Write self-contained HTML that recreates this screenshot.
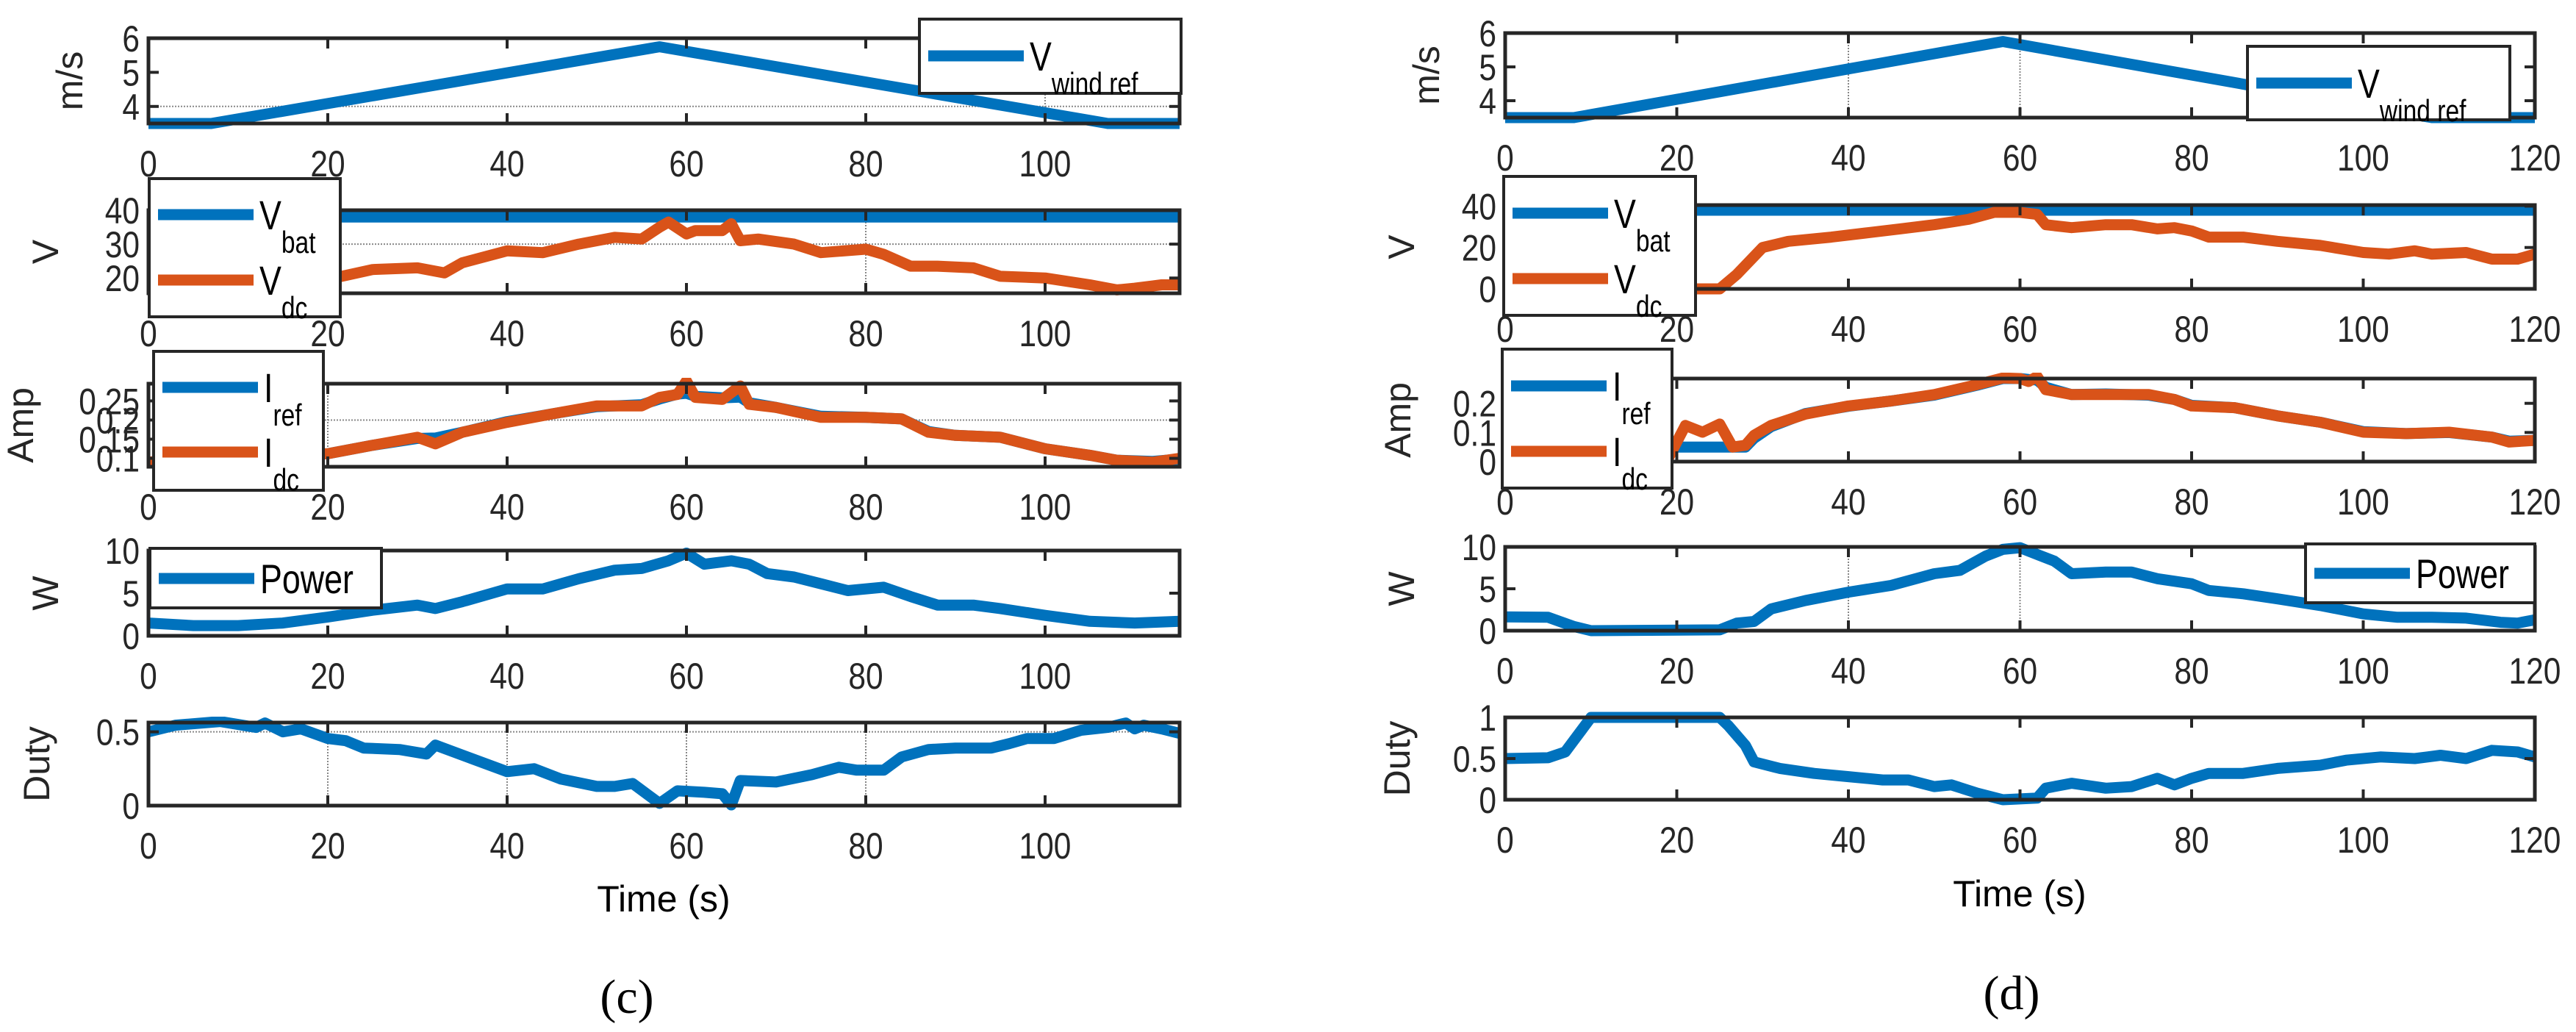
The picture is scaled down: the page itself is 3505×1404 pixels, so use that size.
<!DOCTYPE html>
<html><head><meta charset="utf-8"><style>
html,body{margin:0;padding:0;background:#fff;}
svg{display:block;font-family:"Liberation Sans",sans-serif;}
</style></head><body>
<svg id="fig" width="3505" height="1404" viewBox="0 0 3505 1404" xmlns="http://www.w3.org/2000/svg"></svg>
<script>
// ---------- data: panel (c) ----------
const cWindT=[0,7,57,107,115];
const cWindV=[3.5,3.5,5.75,3.5,3.5];
const cVdcT=[0,10,20,25,30,33,35,40,44,48,52,55,57,58,60,61,64,65,66,68,72,75,80,82,85,88,92,95,100,105,108,110,113,115];
const cVdcV=[17,18,19.6,22.5,23,21.5,24.5,28,27.5,30,32,31.5,35,36.5,33,34,34,36,31,31.5,30,27.5,28.5,27,23.5,23.5,23,20.5,20,18,16.5,17,18,18];
const cVbatT=[0,115];
const cVbatV=[38,38];
const cIT=[0,5,20,25,30,32,35,40,45,50,55,57,59,60,61,64,66,67,70,75,80,84,87,90,95,100,105,108,112,115];
const cIdcV=[0.09,0.1,0.112,0.134,0.155,0.138,0.168,0.194,0.216,0.237,0.237,0.259,0.267,0.302,0.259,0.254,0.289,0.241,0.233,0.207,0.207,0.203,0.168,0.16,0.155,0.125,0.108,0.095,0.09,0.1];
const cIrefV=[0.09,0.1,0.112,0.134,0.152,0.153,0.168,0.196,0.216,0.235,0.24,0.255,0.268,0.27,0.262,0.258,0.26,0.245,0.233,0.21,0.207,0.203,0.17,0.16,0.155,0.125,0.108,0.095,0.092,0.098];
const cPT=[0,5,10,15,20,25,30,32,35,40,44,48,52,55,58,60,62,65,67,69,72,75,78,82,85,88,92,95,100,105,110,115];
const cPV=[1.5,1.2,1.2,1.5,2.2,3.0,3.6,3.2,4.0,5.5,5.5,6.7,7.7,7.9,8.8,9.7,8.4,8.8,8.4,7.3,6.9,6.1,5.3,5.7,4.6,3.6,3.6,3.2,2.4,1.7,1.5,1.7];
const cDT=[0,3,8,12,13,15,17,20,22,24,28,31,32,36,40,43,46,50,52,54,57,59,62,64,65,66,70,74,77,79,82,84,87,90,94,96,98,101,104,107,109,110,111,113,115];
const cDV=[0.5,0.545,0.57,0.53,0.56,0.5,0.52,0.455,0.44,0.39,0.38,0.35,0.41,0.32,0.23,0.25,0.18,0.13,0.13,0.15,0.015,0.1,0.09,0.08,0.005,0.17,0.16,0.21,0.26,0.24,0.24,0.33,0.38,0.39,0.39,0.42,0.455,0.455,0.51,0.53,0.56,0.52,0.545,0.52,0.49];
// ---------- data: panel (d) ----------
const dWindT=[0,8,58,108,120];
const dWindV=[3.5,3.5,5.75,3.5,3.5];
const dVbatT=[0,120];
const dVbatV=[38,38];
const dVdcT=[0,22,25,27,30,33,38,42,46,50,54,57,60,62,63,66,70,73,76,78,80,82,86,90,95,100,103,106,108,112,115,118,120];
const dVdcV=[0,0,0,7,20,23,25,27,29,31,33.6,37,37,36,31,29.6,31,31,29,29.6,28,25,25,23,21,17.6,16.8,18.4,16.8,17.6,14.4,14.4,16.8];
const dIT=[0,19,21,23,25,26.5,28,29,31,35,40,45,50,55,58,60,61,62,63,66,70,75,78,80,85,90,95,100,105,110,115,117,120];
const dIdcV=[0,0.011,0.124,0.101,0.129,0.05,0.056,0.09,0.124,0.163,0.191,0.208,0.23,0.264,0.287,0.285,0.275,0.292,0.247,0.23,0.23,0.23,0.213,0.191,0.185,0.157,0.135,0.101,0.096,0.101,0.084,0.067,0.073];
const dIrefV=[0.05,0.05,0.05,0.05,0.05,0.05,0.05,0.08,0.12,0.165,0.19,0.208,0.228,0.262,0.285,0.285,0.282,0.28,0.255,0.23,0.232,0.228,0.213,0.193,0.185,0.157,0.135,0.103,0.096,0.1,0.084,0.07,0.073];
const dPT=[0,5,8,10,25,27,29,31,35,40,45,50,53,56,58,60,62,64,66,70,73,76,80,82,86,90,95,100,104,108,112,116,118,120];
const dPV=[1.65,1.6,0.5,0,0.1,0.9,1.1,2.6,3.6,4.6,5.4,6.8,7.2,8.9,9.7,9.9,9.1,8.3,6.8,7.0,7.0,6.2,5.6,4.8,4.4,3.8,3.0,2.0,1.6,1.6,1.5,1.0,0.9,1.3];
const dDT=[0,5,7,10,25,26,28,29,32,36,40,44,47,50,52,55,58,62,63,66,70,73,76,78,80,82,86,90,95,98,102,106,109,112,115,118,120];
const dDV=[0.5,0.51,0.58,1,1,0.9,0.66,0.46,0.38,0.32,0.28,0.24,0.24,0.16,0.18,0.08,0.0,0.02,0.14,0.2,0.14,0.16,0.26,0.18,0.26,0.32,0.32,0.38,0.42,0.48,0.52,0.5,0.54,0.5,0.6,0.58,0.52];
// x ticks
const cXTicks=[0,20,40,60,80,100];
const dXTicks=[0,20,40,60,80,100,120];

const NS="http://www.w3.org/2000/svg";
const svg=document.getElementById('fig');
const BLUE="#0072BD", ORANGE="#D95319", AX="#262626";
function mk(tag,attrs,parent){const e=document.createElementNS(NS,tag);for(const k in attrs)e.setAttribute(k,attrs[k]);(parent||svg).appendChild(e);return e;}
let clipId=0;
function subplot(o){
  const g=mk('g',{});
  
  
  const sx=v=>o.x0+(v-o.xmin)/(o.xmax-o.xmin)*(o.x1-o.x0);
  const sy=v=>o.y1-(v-o.ymin)/(o.ymax-o.ymin)*(o.y1-o.y0);
  (o.hgrid||[]).forEach(v=>{const l=mk('line',{x1:o.x0,x2:o.x1,y1:sy(v),y2:sy(v),stroke:'#888','stroke-width':2,'stroke-dasharray':'2 2'},g);});
  (o.vgrid||[]).forEach(v=>{const l=mk('line',{x1:sx(v),x2:sx(v),y1:o.y0,y2:o.y1,stroke:'#888','stroke-width':2,'stroke-dasharray':'2 2'},g);});
  clipId++;
  const cp=mk('clipPath',{id:'cp'+clipId},g);
  mk('rect',{x:o.x0,y:o.y0-8,width:o.x1-o.x0+6,height:o.y1-o.y0+16},cp);
  o.series.forEach(s=>{
    const pts=s.t.map((t,i)=>sx(t).toFixed(1)+','+sy(s.v[i]).toFixed(1)).join(' ');
    const p=mk('polyline',{points:pts,fill:'none',stroke:s.color,'stroke-width':15,'stroke-linejoin':'round','clip-path':'url(#cp'+clipId+')'},g);
    
    
  });
  const b=mk('rect',{x:o.x0,y:o.y0,width:o.x1-o.x0,height:o.y1-o.y0,fill:'none',stroke:AX,'stroke-width':5},g);
  
  
  o.xticks.forEach(v=>{
    const X=sx(v);
    mk('line',{x1:X,x2:X,y1:o.y1,y2:o.y1-14,stroke:AX,'stroke-width':4},g);
    mk('line',{x1:X,x2:X,y1:o.y0,y2:o.y0+14,stroke:AX,'stroke-width':4},g);
    const t=mk('text',{x:X,y:o.y1+72,'font-size':50,'text-anchor':'middle',fill:AX,transform:`translate(${X} 0) scale(0.85 1) translate(${-X} 0)`},g);
    t.textContent=v;
    
    
  });
  o.yticks.forEach(v=>{
    const Y=sy(v);
    mk('line',{x1:o.x0,x2:o.x0+14,y1:Y,y2:Y,stroke:AX,'stroke-width':4},g);
    mk('line',{x1:o.x1,x2:o.x1-14,y1:Y,y2:Y,stroke:AX,'stroke-width':4},g);
    const xr=o.x0-12;
    const t=mk('text',{x:xr,y:Y+18,'font-size':50,'text-anchor':'end',fill:AX,transform:`translate(${xr} 0) scale(0.85 1) translate(${-xr} 0)`},g);
    t.textContent=v;
    
    
  });
  const yc=(o.y0+o.y1)/2, xl=o.x0-o.ylOff;
  const yl=mk('text',{x:xl,y:yc,'font-size':50,'text-anchor':'middle',fill:AX,transform:`rotate(-90 ${xl} ${yc})`},g);
  yl.textContent=o.ylabel;
  
  
  const L=o.legend;
  const lg=mk('g',{},g);
  
  
  mk('rect',{x:L.x0,y:L.y0,width:L.x1-L.x0,height:L.y1-L.y0,fill:'#fff',stroke:AX,'stroke-width':4},lg);
  L.items.forEach(it=>{
    const e=mk('g',{},lg);
    
    
    mk('line',{x1:L.x0+12,x2:L.x0+142,y1:it.y,y2:it.y,stroke:it.color,'stroke-width':15},e);
    const tx=L.x0+150;
    const t=mk('text',{x:tx,y:it.y+20,'font-size':56,fill:'#000',transform:`translate(${tx} 0) scale(0.8 1) translate(${-tx} 0)`},e);
    t.textContent=it.main;
    if(it.sub){const s=mk('tspan',{'font-size':42,dy:32},t);s.textContent=it.sub;}
  });
}
const cX={x0:202,x1:1605,xmin:0,xmax:115,xticks:cXTicks};
subplot(Object.assign({},cX,{name:'c-wind-subplot',y0:52,y1:168,ymin:3.5,ymax:6,yticks:[4,5,6],hgrid:[4],vgrid:[100],ylabel:'m/s',ylOff:90,
 series:[{t:cWindT,v:cWindV,color:BLUE,name:'wind-ref-line'}],
 legend:{x0:1251,x1:1607,y0:26,y1:127,items:[{y:76,color:BLUE,main:'V',sub:'wind ref'}]}}));
subplot(Object.assign({},cX,{name:'c-voltage-subplot',y0:286,y1:399,ymin:15.5,ymax:40,yticks:[20,30,40],hgrid:[30],vgrid:[80],ylabel:'V',ylOff:123,
 series:[{t:cVbatT,v:cVbatV,color:BLUE,name:'vbat-line'},{t:cVdcT,v:cVdcV,color:ORANGE,name:'vdc-line'}],
 legend:{x0:203,x1:463,y0:243,y1:431,items:[{y:292,color:BLUE,main:'V',sub:'bat'},{y:381,color:ORANGE,main:'V',sub:'dc'}]}}));
subplot(Object.assign({},cX,{name:'c-current-subplot',y0:522,y1:635,ymin:0.078,ymax:0.295,yticks:[0.1,0.15,0.2,0.25],hgrid:[0.2],vgrid:[20],ylabel:'Amp',ylOff:157,
 series:[{t:cIT,v:cIrefV,color:BLUE,name:'iref-line'},{t:cIT,v:cIdcV,color:ORANGE,name:'idc-line'}],
 legend:{x0:209,x1:440,y0:478,y1:667,items:[{y:527,color:BLUE,main:'I',sub:'ref'},{y:615,color:ORANGE,main:'I',sub:'dc'}]}}));
subplot(Object.assign({},cX,{name:'c-power-subplot',y0:749,y1:865,ymin:0,ymax:10,yticks:[0,5,10],ylabel:'W',ylOff:123,
 series:[{t:cPT,v:cPV,color:BLUE,name:'power-line'}],
 legend:{x0:204,x1:519,y0:746,y1:827,items:[{y:787,color:BLUE,main:'Power'}]}}));
subplot(Object.assign({},cX,{name:'c-duty-subplot',y0:983,y1:1096,ymin:0,ymax:0.563,yticks:[0,0.5],hgrid:[0.5],vgrid:[20,40,60,80],ylabel:'Duty',ylOff:135,
 series:[{t:cDT,v:cDV,color:BLUE,name:'duty-line'}],
 legend:{x0:-100,x1:-90,y0:-100,y1:-90,items:[]}}));
const dX={x0:2048,x1:3449,xmin:0,xmax:120,xticks:dXTicks};
subplot(Object.assign({},dX,{name:'d-wind-subplot',y0:45,y1:160,ymin:3.5,ymax:6,yticks:[4,5,6],vgrid:[40,60],ylabel:'m/s',ylOff:90,
 series:[{t:dWindT,v:dWindV,color:BLUE,name:'wind-ref-line'}],
 legend:{x0:3058,x1:3415,y0:63,y1:163,items:[{y:113,color:BLUE,main:'V',sub:'wind ref'}]}}));
subplot(Object.assign({},dX,{name:'d-voltage-subplot',y0:279,y1:393,ymin:0,ymax:40.5,yticks:[0,20,40],ylabel:'V',ylOff:124,
 series:[{t:dVbatT,v:dVbatV,color:BLUE,name:'vbat-line'},{t:dVdcT,v:dVdcV,color:ORANGE,name:'vdc-line'}],
 legend:{x0:2046,x1:2307,y0:240,y1:429,items:[{y:290,color:BLUE,main:'V',sub:'bat'},{y:379,color:ORANGE,main:'V',sub:'dc'}]}}));
subplot(Object.assign({},dX,{name:'d-current-subplot',y0:515,y1:628,ymin:0,ymax:0.285,yticks:[0,0.1,0.2],ylabel:'Amp',ylOff:129,
 series:[{t:dIT,v:dIrefV,color:BLUE,name:'iref-line'},{t:dIT,v:dIdcV,color:ORANGE,name:'idc-line'}],
 legend:{x0:2044,x1:2275,y0:475,y1:664,items:[{y:525,color:BLUE,main:'I',sub:'ref'},{y:614,color:ORANGE,main:'I',sub:'dc'}]}}));
subplot(Object.assign({},dX,{name:'d-power-subplot',y0:744,y1:858,ymin:0,ymax:10,yticks:[0,5,10],vgrid:[40,60],ylabel:'W',ylOff:124,
 series:[{t:dPT,v:dPV,color:BLUE,name:'power-line'}],
 legend:{x0:3137,x1:3449,y0:740,y1:820,items:[{y:780,color:BLUE,main:'Power'}]}}));
subplot(Object.assign({},dX,{name:'d-duty-subplot',y0:976,y1:1088,ymin:0,ymax:1,yticks:[0,0.5,1],ylabel:'Duty',ylOff:130,
 series:[{t:dDT,v:dDV,color:BLUE,name:'duty-line'}],
 legend:{x0:-100,x1:-90,y0:-100,y1:-90,items:[]}}));
function txt(x,y,s,size,name,fam){const t=mk('text',{x:x,y:y,'font-size':size,'text-anchor':'middle',fill:'#000','font-family':fam||'Liberation Sans, sans-serif'});t.textContent=s;}
txt(903,1240,'Time (s)',50,'x-axis-title');
txt(2748,1233,'Time (s)',50,'x-axis-title');
txt(853,1378,'(c)',66,'panel-label-c','Liberation Serif, serif');
txt(2737,1373,'(d)',66,'panel-label-d','Liberation Serif, serif');
</script>
</body></html>
